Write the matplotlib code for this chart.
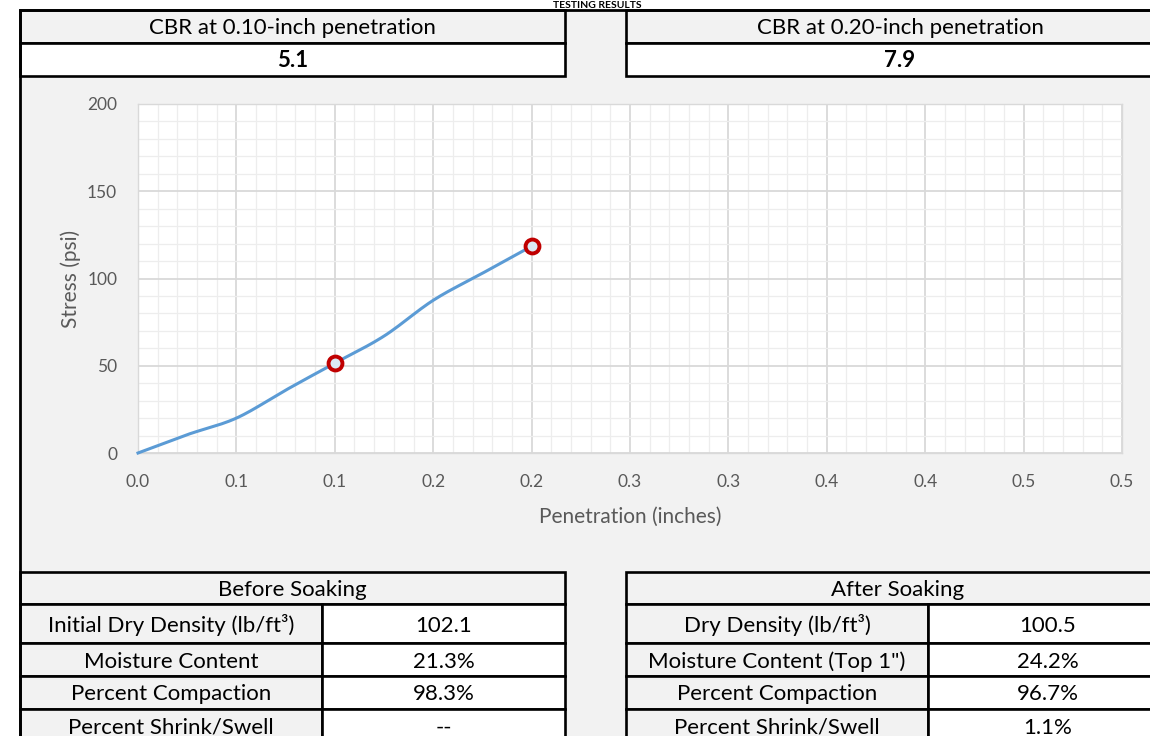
import numpy as np
import matplotlib
matplotlib.use("Agg")
import matplotlib.pyplot as plt
from matplotlib.patches import Rectangle
from matplotlib.ticker import MultipleLocator, FuncFormatter

# ---------------- data ----------------
penetration = [0.0, 0.025, 0.05, 0.075, 0.10, 0.125, 0.15, 0.175, 0.20]
stress = [0.0, 10.5, 20.0, 36.0, 51.5, 67.0, 87.5, 103.0, 118.5]
marker_pen = [0.10, 0.20]
marker_stress = [51.5, 118.5]

cbr_labels = ["CBR at 0.10-inch penetration", "CBR at 0.20-inch penetration"]
cbr_values = ["5.1", "7.9"]

before_title = "Before Soaking"
before_labels = ["Initial Dry Density (lb/ft³)", "Moisture Content",
                 "Percent Compaction", "Percent Shrink/Swell"]
before_values = ["102.1", "21.3%", "98.3%", "--"]

after_title = "After Soaking"
after_labels = ["Dry Density (lb/ft³)", "Moisture Content (Top 1\")",
                "Percent Compaction", "Percent Shrink/Swell"]
after_values = ["100.5", "24.2%", "96.7%", "1.1%"]

FONT = ["Lato", "DejaVu Sans"]
plt.rcParams["font.family"] = FONT

W, H = 1150, 736
fig = plt.figure(figsize=(W / 100, H / 100), dpi=100, facecolor="white")

# overlay in pixel coordinates
ov = fig.add_axes([0, 0, 1, 1])
ov.set_xlim(0, W)
ov.set_ylim(H, 0)
ov.axis("off")

GRAY_BG = "#F2F2F2"
TS = 16  # table text size
ov.add_patch(Rectangle((20, 10), W, H, facecolor=GRAY_BG, edgecolor="none", zorder=0))
ov.plot([20, 20], [10, H + 5], color="black", lw=2.0, zorder=5, solid_capstyle="butt")
ov.plot([20, W + 5], [10, 10], color="black", lw=2.0, zorder=5)

ov.text(597, 5, "TESTING RESULTS", ha="center", va="center", fontsize=7.5,
        fontweight="bold", color="black", zorder=1)

LW = 1.9

def cell(x0, y0, x1, y1, fc):
    ov.add_patch(Rectangle((x0, y0), x1 - x0, y1 - y0, facecolor=fc,
                           edgecolor="black", lw=LW, zorder=3))

# top CBR boxes
boxes = [(20, 565), (626, 1176)]
for (x0, x1), lab, val in zip(boxes, cbr_labels, cbr_values):
    cell(x0, 10, x1, 43, GRAY_BG)
    cell(x0, 43, x1, 76, "white")
    cx = (x0 + x1) / 2 if x1 < W else 900
    ov.text(cx, 27.5, lab, ha="center", va="center", fontsize=TS, color="black", zorder=6)
    ov.text(cx, 60.5, val, ha="center", va="center", fontsize=TS,
            fontweight="bold", color="black", zorder=6)

# bottom tables
row_edges = [572, 604, 643, 676, 709, 742]
tables = [(20, 322, 565, before_title, before_labels, before_values),
          (626, 928, 1176, after_title, after_labels, after_values)]
for x0, xm, x1, title, labs, vals in tables:
    cell(x0, row_edges[0], x1, row_edges[1], GRAY_BG)
    ov.text((x0 + x1) / 2 if x1 < W else 898, (row_edges[0] + row_edges[1]) / 2 + 1.5, title,
            ha="center", va="center", fontsize=TS, zorder=6)
    for i, (lab, val) in enumerate(zip(labs, vals)):
        ya, yb = row_edges[i + 1], row_edges[i + 2]
        cell(x0, ya, xm, yb, GRAY_BG)
        cell(xm, ya, x1, yb, "white")
        yc = (ya + yb) / 2 + 2
        ov.text((x0 + xm) / 2, yc, lab, ha="center", va="center", fontsize=TS, zorder=6)
        ov.text((xm + x1) / 2 - (4 if x1 > W else 0), yc, val, ha="center", va="center",
                fontsize=TS, zorder=6)

# ---------------- chart ----------------
px0, px1, py0, py1 = 138, 1122, 104, 453
ax = fig.add_axes([px0 / W, 1 - py1 / H, (px1 - px0) / W, (py1 - py0) / H])
ax.set_facecolor("white")
ax.set_xlim(0, 0.5)
ax.set_ylim(0, 200)
ax.xaxis.set_major_locator(MultipleLocator(0.05))
ax.xaxis.set_minor_locator(MultipleLocator(0.01))
ax.yaxis.set_major_locator(MultipleLocator(50))
ax.yaxis.set_minor_locator(MultipleLocator(10))
ax.xaxis.set_major_formatter(FuncFormatter(lambda v, p: f"{np.floor(v * 10 + 0.5 + 1e-9) / 10:.1f}"))
ax.yaxis.set_major_formatter(FuncFormatter(lambda v, p: f"{v:.0f}"))
ax.grid(which="major", color="#D9D9D9", lw=1.3)
ax.grid(which="minor", color="#EDEDED", lw=0.9)
ax.set_axisbelow(True)
for s in ax.spines.values():
    s.set_color("#D9D9D9")
    s.set_linewidth(1.0)
ax.tick_params(which="both", length=0)
ax.tick_params(axis="x", pad=15, labelsize=12.5, labelcolor="#595959")
ax.tick_params(axis="y", pad=15, labelsize=12.5, labelcolor="#595959")
ax.set_xlabel("Penetration (inches)", fontsize=15, color="#595959", labelpad=12)
ax.set_ylabel("Stress (psi)", fontsize=15, color="#595959", labelpad=4)


def catmull(xs, ys, n=20):
    xs = np.asarray(xs, float)
    ys = np.asarray(ys, float)
    P = np.column_stack([xs, ys])
    P = np.vstack([P[0] - (P[1] - P[0]), P, P[-1] + (P[-1] - P[-2])])
    out = []
    t = np.linspace(0, 1, n, endpoint=False)[:, None]
    for i in range(1, len(P) - 2):
        p0, p1, p2, p3 = P[i - 1], P[i], P[i + 1], P[i + 2]
        seg = 0.5 * ((2 * p1) + (-p0 + p2) * t + (2 * p0 - 5 * p1 + 4 * p2 - p3) * t ** 2
                     + (-p0 + 3 * p1 - 3 * p2 + p3) * t ** 3)
        out.append(seg)
    out.append(P[-2][None, :])
    out = np.vstack(out)
    return out[:, 0], out[:, 1]

sx, sy = catmull(penetration, stress)
ax.plot(sx, sy, color="#5B9BD5", lw=2.2, zorder=3, clip_on=False)
ax.plot(marker_pen, marker_stress, linestyle="none", marker="o", markersize=10,
        markerfacecolor="#DCE9F5", markeredgecolor="#C00000", markeredgewidth=2.8, zorder=4)

fig.savefig("out.png", dpi=100, facecolor="white")
